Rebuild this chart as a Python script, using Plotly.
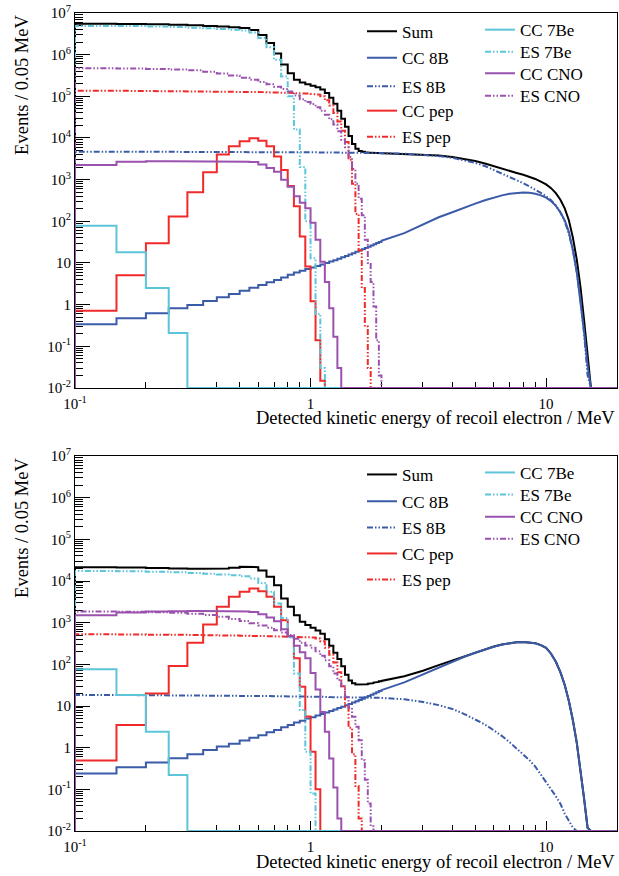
import plotly.graph_objects as go

# ---------------- data ----------------
# histogram bin edges (0.05 MeV bins) for the low-energy stepped part
EDGES = [round(0.10 + 0.05 * i, 2) for i in range(39)]  # 0.10 ... 2.00
# energies of the smooth high-energy part
E_TAIL = [2.0, 2.5, 3.0, 3.5, 4.0, 4.5, 5.0, 5.5, 6.0, 6.5, 7.0, 7.5, 8.0, 8.5,
          9.0, 9.5, 10.0, 10.5, 11.0, 11.5, 12.0, 12.5, 13.0, 13.5, 14.0, 14.5, 15.0, 15.5]
E_MAX = 20.0
SERIES = ["Sum", "CC 8B", "ES 8B", "CC pep", "ES pep", "CC 7Be", "ES 7Be", "CC CNO", "ES CNO"]

# ---- upper panel ----
TOP_SUM = [5.5e6, 5.45e6, 5.35e6, 5.2e6, 5.05e6, 4.9e6, 4.75e6, 4.55e6, 4.35e6, 3.9e6,
           2.95e6, 1.9e6, 1.07e6, 5.8e5, 3.6e5, 2.5e5, 2.15e5, 1.95e5, 1.8e5, 1.65e5,
           1.45e5, 1.2e5, 9.3e4, 6.6e4, 4.5e4, 2.9e4, 1.86e4, 1.11e4, 7.2e3, 5.5e3,
           4.9e3, 4.65e3, 4.5e3, 4.45e3, 4.42e3, 4.4e3, 4.38e3, 4.36e3]
TOP_SUM_TAIL = [4.36e3, 4.25e3, 4.05e3, 3.8e3, 3.5e3, 3.15e3, 2.8e3, 2.45e3, 2.1e3, 1.8e3,
                1.61e3, 1.45e3, 1.31e3, 1.17e3, 1.04e3, 900, 770, 625, 475, 330, 205, 105,
                40, 12, 2.6, 0.42, 0.055, 0]
TOP_CC8B = [0.34, 0.47, 0.62, 0.82, 0.98, 1.22, 1.5, 1.8, 2.17, 2.56, 2.97, 3.44, 3.9, 4.5,
            5.2, 5.9, 6.5, 7.2, 7.8, 8.5, 9.2, 10.0, 10.8, 11.7, 12.7, 13.7, 14.8, 16.0,
            17.2, 18.5, 19.9, 21.3, 22.9, 24.5, 26.2, 28.0, 30.0, 32.0]
TOP_CC8B_TAIL = [34, 52, 85, 125, 165, 215, 265, 320, 375, 420, 458, 482, 490, 482, 460, 420,
                 370, 305, 235, 165, 105, 55, 20, 6, 1.3, 0.22, 0.035, 0]
TOP_ES8B = [4.7e3, 4.7e3, 4.69e3, 4.68e3, 4.67e3, 4.66e3, 4.65e3, 4.64e3, 4.63e3, 4.62e3,
            4.61e3, 4.6e3, 4.59e3, 4.58e3, 4.57e3, 4.56e3, 4.55e3, 4.54e3, 4.53e3, 4.52e3,
            4.51e3, 4.5e3, 4.49e3, 4.48e3, 4.47e3, 4.46e3, 4.45e3, 4.44e3, 4.43e3, 4.42e3,
            4.41e3, 4.4e3, 4.39e3, 4.38e3, 4.37e3, 4.36e3, 4.35e3, 4.34e3]
TOP_ES8B_TAIL = [4.32e3, 4.2e3, 3.96e3, 3.67e3, 3.33e3, 2.93e3, 2.53e3, 2.13e3, 1.72e3, 1.38e3,
                 1.15e3, 970, 820, 690, 580, 480, 400, 320, 240, 165, 100, 50, 20, 6, 1.3,
                 0.2, 0.02, 0]
TOP_CCPEP = [0.71, 5.1, 29.7, 130, 497, 1500, 4000, 6300, 8400, 9850, 8600, 6300, 3600, 1700,
             700, 230, 43, 8.2, 1.2, 0.14, 0.015, 0, 0, 0, 0, 0, 0, 0, 0, 0, 0, 0, 0, 0, 0, 0, 0, 0]
TOP_ESPEP = [1.36e5, 1.35e5, 1.34e5, 1.33e5, 1.32e5, 1.31e5, 1.3e5, 1.29e5, 1.28e5, 1.27e5,
             1.26e5, 1.25e5, 1.24e5, 1.22e5, 1.2e5, 1.19e5, 1.18e5, 1.16e5, 1.14e5, 1.1e5,
             1.0e5, 8.0e4, 6.0e4, 4.0e4, 2.5e4, 1.5e4, 8.0e3, 3.0e3, 800, 150, 20, 2.5, 0.3,
             0.03, 0, 0, 0, 0]
TOP_CC7BE = [78, 18, 2.5, 0.21] + [0] * 34
TOP_ES7BE = [4.9e6, 4.85e6, 4.75e6, 4.6e6, 4.45e6, 4.3e6, 4.15e6, 3.98e6, 3.8e6, 3.4e6,
             2.5e6, 1.5e6, 7.5e5, 3.0e5, 1.0e5, 1.6e4, 2.0e3, 100, 13, 0.6, 0.03] + [0] * 17
TOP_CCCNO = [2250, 2700, 2750, 2760, 2760, 2750, 2740, 2720, 2690, 2640, 2300, 1900, 1550,
             1000, 680, 400, 280, 205, 93, 36, 10.7, 3.5, 0.82, 0.17, 0.03] + [0] * 13
TOP_ESCNO = [4.7e5, 4.65e5, 4.55e5, 4.4e5, 4.2e5, 3.9e5, 3.55e5, 3.15e5, 2.8e5, 2.5e5,
             2.2e5, 1.95e5, 1.7e5, 1.5e5, 1.3e5, 1.05e5, 8.5e4, 7.3e4, 6.5e4, 5.5e4, 4.5e4,
             3.6e4, 2.8e4, 2.1e4, 1.45e4, 9.0e3, 6.0e3, 3.5e3, 1.8e3, 800, 350, 140, 36, 10,
             3.5, 0.9, 0.14, 0.02]

# ---- lower panel ----
BOT_SUM = [2.15e4, 2.1e4, 2.05e4, 2.0e4, 1.97e4, 1.97e4, 2.0e4, 2.07e4, 2.2e4, 2.15e4,
           1.8e4, 1.26e4, 7.9e3, 3.8e3, 2.4e3, 1.5e3, 1.05e3, 880, 760, 650, 540, 400, 280,
           190, 135, 90, 56, 41, 35, 33, 32.5, 32.5, 33.2, 34.2, 35.3, 36.5, 37.8, 39.2]
BOT_SUM_TAIL = [40, 52, 70, 96, 124, 158, 195, 232, 268, 300, 324, 341, 346, 339, 320, 290,
                250, 180, 115, 65, 32, 13, 4.5, 1.3, 0.3, 0.06, 0.012, 0]
BOT_CC8B = [0.24, 0.34, 0.44, 0.56, 0.7, 0.88, 1.06, 1.25, 1.48, 1.74, 2.0, 2.34, 2.65, 3.1,
            3.5, 4.0, 4.4, 5.0, 5.4, 5.9, 6.4, 7.0, 7.6, 8.2, 8.9, 9.6, 10.4, 11.2, 12.1,
            13.0, 14.0, 15.0, 16.2, 17.3, 18.6, 19.9, 21.3, 22.8]
BOT_CC8B_TAIL = [24, 37, 58, 85, 115, 152, 190, 228, 265, 298, 323, 340, 345, 338, 320, 290,
                 250, 180, 115, 65, 32, 13, 4.5, 1.3, 0.3, 0.06, 0.012, 0]
BOT_ES8B = [18.4, 18.3, 18.2, 18.1, 18.0, 17.9, 17.8, 17.7, 17.6, 17.5, 17.4, 17.3, 17.2,
            17.1, 17.0, 16.9, 16.8, 16.7, 16.6, 16.6, 16.5, 16.5, 16.4, 16.4, 16.3, 16.3,
            16.2, 16.2, 16.1, 16.1, 16.0, 16.0, 15.9, 15.9, 15.8, 15.8, 15.7, 15.7]
BOT_ES8B_TAIL = [15.6, 14.5, 12.5, 10.5, 8.5, 6.4, 4.8, 3.6, 2.6, 1.9, 1.35, 0.95, 0.7, 0.5,
                 0.35, 0.23, 0.15, 0.1, 0.068, 0.045, 0.026, 0.017, 0.012, 0, 0, 0, 0, 0]
BOT_CCPEP = [0.49, 3.5, 20, 91, 330, 900, 2400, 4200, 5500, 6600, 5700, 4200, 2400, 1150,
             480, 140, 29, 5.6, 0.8, 0.1] + [0] * 18
BOT_ESPEP = [525, 520, 515, 510, 505, 500, 495, 490, 486, 482, 478, 474, 470, 466, 462, 458,
             455, 450, 440, 420, 360, 250, 170, 110, 65, 30, 10, 3, 0.7, 0.12, 0.02] + [0] * 7
BOT_CC7BE = [76, 18.4, 2.4, 0.22] + [0] * 34
BOT_ES7BE = [1.75e4, 1.72e4, 1.68e4, 1.62e4, 1.56e4, 1.5e4, 1.44e4, 1.38e4, 1.3e4, 1.15e4,
             9.0e3, 5.5e3, 2.9e3, 1.3e3, 450, 60, 8, 0.8, 0.08] + [0] * 19
BOT_CCCNO = [1.5e3, 1.75e3, 1.85e3, 1.88e3, 1.9e3, 1.9e3, 1.9e3, 1.88e3, 1.85e3, 1.8e3,
             1.6e3, 1.33e3, 1.08e3, 700, 475, 280, 195, 140, 62, 25, 7.2, 2.4, 0.55, 0.11,
             0.02] + [0] * 13
BOT_ESCNO = [1.85e3, 1.82e3, 1.78e3, 1.72e3, 1.64e3, 1.52e3, 1.38e3, 1.23e3, 1.09e3, 975,
             860, 760, 660, 585, 505, 410, 330, 285, 250, 205, 160, 126, 90, 60, 42, 30, 17,
             9, 5.5, 3.2, 1.5, 0.5, 0.17, 0.046, 0.013, 0, 0, 0]

TOP = {"Sum": (TOP_SUM, TOP_SUM_TAIL), "CC 8B": (TOP_CC8B, TOP_CC8B_TAIL),
       "ES 8B": (TOP_ES8B, TOP_ES8B_TAIL), "CC pep": (TOP_CCPEP, None),
       "ES pep": (TOP_ESPEP, None), "CC 7Be": (TOP_CC7BE, None), "ES 7Be": (TOP_ES7BE, None),
       "CC CNO": (TOP_CCCNO, None), "ES CNO": (TOP_ESCNO, None)}
BOT = {"Sum": (BOT_SUM, BOT_SUM_TAIL), "CC 8B": (BOT_CC8B, BOT_CC8B_TAIL),
       "ES 8B": (BOT_ES8B, BOT_ES8B_TAIL), "CC pep": (BOT_CCPEP, None),
       "ES pep": (BOT_ESPEP, None), "CC 7Be": (BOT_CC7BE, None), "ES 7Be": (BOT_ES7BE, None),
       "CC CNO": (BOT_CCCNO, None), "ES CNO": (BOT_ESCNO, None)}

# ---------------- styling ----------------
FLOOR = 0.01   # empty bins are drawn on the bottom of the axis, as ROOT does
COLORS = {"Sum": "#000000", "8B": "#3B5BA9", "pep": "#F02A2A", "7Be": "#5CC5DA", "CNO": "#9A52AE"}
DASH_ES = "6px,2px,1.5px,2px,1.5px,2px"
FONT = "Liberation Serif, Times New Roman, serif"

# legend entry placement (pixels in the 619x876 page): column x and row centre y
LEG_X = {"col1": 362, "col2": 480}
LEG_Y = {
    "t": {"Sum": 31, "CC 8B": 57.7, "ES 8B": 86, "CC pep": 110.5, "ES pep": 136.7,
          "CC 7Be": 29.5, "ES 7Be": 51.7, "CC CNO": 73, "ES CNO": 95.7},
    "b": {"Sum": 474.3, "CC 8B": 501, "ES 8B": 527.3, "CC pep": 553.3, "ES pep": 579.3,
          "CC 7Be": 472.3, "ES 7Be": 494.3, "CC CNO": 516.7, "ES CNO": 538.7},
}
COL1 = ["Sum", "CC 8B", "ES 8B", "CC pep", "ES pep"]
PLOT_L, PLOT_W, PLOT_B, PLOT_H = 75, 542, 831, 818


def colour(name):
    return COLORS["Sum"] if name == "Sum" else COLORS[name.split()[1]]


def path(bins, tail):
    xs, ys = [EDGES[0]], [FLOOR]
    for i, v in enumerate(bins):
        v = max(v, FLOOR)
        xs += [EDGES[i], EDGES[i + 1]]
        ys += [v, v]
    if tail is not None:
        for e, v in zip(E_TAIL, tail):
            xs.append(e)
            ys.append(max(v, FLOOR))
    else:
        xs.append(EDGES[-1])
        ys.append(FLOOR)
    xs.append(E_MAX)
    ys.append(FLOOR)
    return xs, ys


fig = go.Figure()
legends = {}
k = 0
for panel, data, xax, yax in [("t", TOP, "x", "y"), ("b", BOT, "x2", "y2")]:
    for name in SERIES:
        k += 1
        lname = "legend" if k == 1 else "legend%d" % k
        bins, tail = data[name]
        xs, ys = path(bins, tail)
        fig.add_trace(go.Scatter(
            x=xs, y=ys, mode="lines", name=name, xaxis=xax, yaxis=yax, showlegend=True,
            line=dict(color=colour(name), width=2,
                      dash=DASH_ES if name.startswith("ES") else "solid"),
            legend=lname, hoverinfo="skip"))
        xpx = LEG_X["col1"] if name in COL1 else LEG_X["col2"]
        top_px = LEG_Y[panel][name] - 17.4
        legends[lname] = dict(
            x=(xpx - PLOT_L) / PLOT_W, y=(PLOT_B - top_px) / PLOT_H,
            xanchor="left", yanchor="top", bgcolor="rgba(0,0,0,0)", borderwidth=0,
            font=dict(family=FONT, size=17, color="black"), itemwidth=30,
            orientation="v", visible=True)

# ---------------- axes ----------------
XT = [0.1, 1, 10]
XT_TEXT = ["10<sup>-1</sup>", "1", "10"]
X_MINOR = [m * 10 ** p for p in (-1, 0, 1) for m in range(2, 10) if m * 10 ** p <= 20]
YT = [10.0 ** p for p in range(-2, 8)]
YT_TEXT = ["10<sup>-2</sup>", "10<sup>-1</sup>", "1", "10"] + ["10<sup>%d</sup>" % p for p in range(2, 8)]
Y_MINOR = [m * 10.0 ** p for p in range(-2, 7) for m in range(2, 10)]

xcommon = dict(type="log", range=[-1, 1.30103], showline=True, linecolor="black", linewidth=1,
               mirror=True, ticks="inside", ticklen=10, tickcolor="black", tickwidth=1,
               tickmode="array", tickvals=XT, ticktext=XT_TEXT, showgrid=False, zeroline=False,
               tickfont=dict(family=FONT, size=15, color="black"), ticklabelstandoff=2,
               minor=dict(tickmode="array", tickvals=X_MINOR, ticks="inside", ticklen=6,
                          tickcolor="black", tickwidth=1, showgrid=False),
               layer="below traces")
ycommon = dict(type="log", range=[-2, 7], showline=True, linecolor="black", linewidth=1,
               mirror=True, ticks="inside", ticklen=15, tickcolor="black", tickwidth=1,
               tickmode="array", tickvals=YT, ticktext=YT_TEXT, showgrid=False, zeroline=False,
               tickfont=dict(family=FONT, size=15, color="black"),
               minor=dict(tickmode="array", tickvals=Y_MINOR, ticks="inside", ticklen=8,
                          tickcolor="black", tickwidth=1, showgrid=False),
               layer="below traces")

fig.update_layout(
    width=619, height=876, margin=dict(l=75, r=2, t=13, b=45),
    paper_bgcolor="white", plot_bgcolor="white", hovermode=False, showlegend=True,
    font=dict(family=FONT, size=17, color="black"),
    xaxis=dict(domain=[0, 1], anchor="y", **xcommon),
    yaxis=dict(domain=[0.5416, 1], anchor="x", **ycommon),
    xaxis2=dict(domain=[0, 1], anchor="y2", **xcommon),
    yaxis2=dict(domain=[0, 0.4584], anchor="x2", **ycommon),
    **legends,
)

# axis titles (ROOT style: y title at the top, x title at the right end)
for ytop, ybot in [(1.0, 0.5055), (0.4584, -0.0375)]:
    fig.add_annotation(text="Events / 0.05 MeV", xref="paper", yref="paper", x=-0.098, y=ytop,
                       xanchor="center", yanchor="top", textangle=-90, showarrow=False,
                       font=dict(family=FONT, size=18.5, color="black"))
    fig.add_annotation(text="Detected kinetic energy of recoil electron / MeV", xref="paper",
                       yref="paper", x=1.0, y=ybot, xanchor="right", yanchor="middle",
                       showarrow=False, font=dict(family=FONT, size=18.5, color="black"))

fig.write_html("out.html", include_plotlyjs=True, config={"displayModeBar": False})
